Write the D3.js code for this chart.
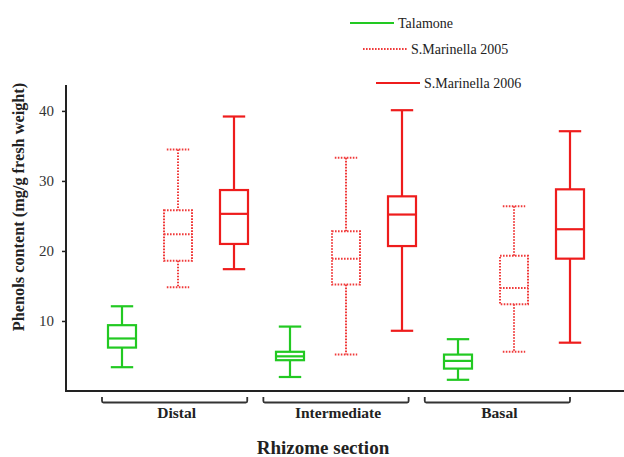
<!DOCTYPE html>
<html>
<head>
<meta charset="utf-8">
<script src="https://cdn.jsdelivr.net/npm/d3@7"></script>
<style>
  body { margin: 0; background: #fff; }
  svg, svg text { font-family: "Liberation Serif", "Times New Roman", Times, "DejaVu Serif", serif !important; }
</style>
</head>
<body>
<script>
var width = 624
var height = 457

// data
var sections = ['Distal', 'Intermediate', 'Basal']
var sites = ['Talamone', 'S.Marinella 2005', 'S.Marinella 2006']
var yTicks = [10, 20, 30, 40]

var talamoneLow = [3.4, 2.0, 1.6]
var talamoneQ1 = [6.2, 4.4, 3.2]
var talamoneMedian = [7.5, 4.95, 4.3]
var talamoneQ3 = [9.4, 5.6, 5.2]
var talamoneHigh = [12.1, 9.2, 7.4]

var sm2005Low = [14.8, 5.2, 5.6]
var sm2005Q1 = [18.6, 15.2, 12.4]
var sm2005Median = [22.4, 18.9, 14.7]
var sm2005Q3 = [25.8, 22.8, 19.3]
var sm2005High = [34.5, 33.3, 26.4]

var sm2006Low = [17.4, 8.6, 6.9]
var sm2006Q1 = [21.0, 20.7, 18.9]
var sm2006Median = [25.3, 25.2, 23.1]
var sm2006Q3 = [28.7, 27.8, 28.8]
var sm2006High = [39.2, 40.1, 37.1]

var stats = [
    [talamoneLow, talamoneQ1, talamoneMedian, talamoneQ3, talamoneHigh],
    [sm2005Low, sm2005Q1, sm2005Median, sm2005Q3, sm2005High],
    [sm2006Low, sm2006Q1, sm2006Median, sm2006Q3, sm2006High]
]

var green = '#22c922'
var red = '#ee1c1c'
var style = {
    'Talamone': { color: green, width: 2.2, dash: null },
    'S.Marinella 2005': { color: '#f03a3a', width: 2, dash: '1.6,1.4' },
    'S.Marinella 2006': { color: red, width: 2.2, dash: null }
}

var boxes = []
sections.forEach(function (s, gi) {
    sites.forEach(function (site, si) {
        var st = stats[si]
        boxes.push({
            section: s, site: site,
            low: st[0][gi], q1: st[1][gi], median: st[2][gi], q3: st[3][gi], high: st[4][gi]
        })
    })
})

var svg = d3.select('body').append('svg').attr('width', width).attr('height', height)

var y = d3.scaleLinear().domain([0, 43.7]).range([391, 85])
var x0 = d3.scaleBand().domain(sections).range([94, 598]).padding(0)
var x1 = d3.scaleBand().domain(sites).range([0, x0.bandwidth()]).padding(0)
var bracketX = d3.scaleBand().domain(sections).range([102, 570]).paddingInner(0.1).paddingOuter(0)

var axisColor = '#222'

// y axis
var yAxis = svg.append('g')
    .attr('transform', 'translate(66,0)')
    .call(d3.axisLeft(y).tickValues(yTicks).tickSize(4).tickPadding(8))
yAxis.attr('font-family', null)
yAxis.select('.domain').remove()
yAxis.selectAll('.tick line').attr('stroke', axisColor).attr('stroke-width', 1.5)
yAxis.selectAll('.tick text')
    .attr('font-size', 15)
    .attr('fill', '#333')

svg.append('line')
    .attr('x1', 66).attr('x2', 66).attr('y1', y.range()[1]).attr('y2', y(0))
    .attr('stroke', axisColor).attr('stroke-width', 2)
svg.append('line')
    .attr('x1', 65).attr('x2', width).attr('y1', y(0)).attr('y2', y(0))
    .attr('stroke', axisColor).attr('stroke-width', 2)

// section brackets
var br = svg.append('g')
sections.forEach(function (s) {
    var a = bracketX(s), b = a + bracketX.bandwidth()
    br.append('path')
        .attr('d', 'M' + a + ',397 L' + a + ',401 Q' + a + ',402.5 ' + (a + 1.5) + ',402.5 L' + (b - 1.5) +
            ',402.5 Q' + b + ',402.5 ' + b + ',401 L' + b + ',397')
        .attr('fill', 'none').attr('stroke', '#333').attr('stroke-width', 1.8)
    br.append('text')
        .attr('x', a + bracketX.bandwidth() / 2 + 2)
        .attr('y', 418)
        .attr('text-anchor', 'middle')
        .attr('font-weight', 'bold')
        .attr('font-size', 15.5)
        .attr('fill', '#222')
        .text(s)
})

// axis titles
svg.append('text')
    .attr('x', 323).attr('y', 454)
    .attr('text-anchor', 'middle')
    .attr('font-weight', 'bold').attr('font-size', 19).attr('fill', '#222')
    .text('Rhizome section')

svg.append('text')
    .attr('transform', 'translate(24,207) rotate(-90)')
    .attr('text-anchor', 'middle')
    .attr('font-weight', 'bold').attr('font-size', 16.3).attr('fill', '#222')
    .text('Phenols content (mg/g fresh weight)')

// boxes
var bw = x1.bandwidth() / 2
var cap = bw * 0.4

var g = svg.append('g').selectAll('g')
    .data(boxes)
    .enter()
    .append('g')
    .attr('transform', function (d) {
        return 'translate(' + (x0(d.section) + x1(d.site) + x1.bandwidth() / 2) + ',0)'
    })

g.each(function (d) {
    var el = d3.select(this)
    var st = style[d.site]
    function seg(x1_, y1_, x2_, y2_) {
        el.append('line')
            .attr('x1', x1_).attr('y1', y1_).attr('x2', x2_).attr('y2', y2_)
            .attr('stroke', st.color).attr('stroke-width', st.width)
            .attr('stroke-dasharray', st.dash)
    }
    seg(0, y(d.high), 0, y(d.q3))
    seg(0, y(d.q1), 0, y(d.low))
    seg(-cap, y(d.high), cap, y(d.high))
    seg(-cap, y(d.low), cap, y(d.low))
    el.append('rect')
        .attr('x', -bw / 2).attr('y', y(d.q3))
        .attr('width', bw).attr('height', y(d.q1) - y(d.q3))
        .attr('fill', 'none')
        .attr('stroke', st.color).attr('stroke-width', st.width)
        .attr('stroke-dasharray', st.dash)
    seg(-bw / 2, y(d.median), bw / 2, y(d.median))
})

// legend
var legendX = [350, 363, 376]
var legendY = [23, 49, 83]
var legend = svg.append('g')
sites.forEach(function (site, i) {
    var st = style[site]
    legend.append('line')
        .attr('x1', legendX[i]).attr('x2', legendX[i] + 44)
        .attr('y1', legendY[i]).attr('y2', legendY[i])
        .attr('stroke', st.color).attr('stroke-width', st.width)
        .attr('stroke-dasharray', st.dash)
    legend.append('text')
        .attr('x', legendX[i] + 48).attr('y', legendY[i] + 4.5)
        .attr('font-size', 14).attr('fill', '#222')
        .text(site)
})
</script>
</body>
</html>
